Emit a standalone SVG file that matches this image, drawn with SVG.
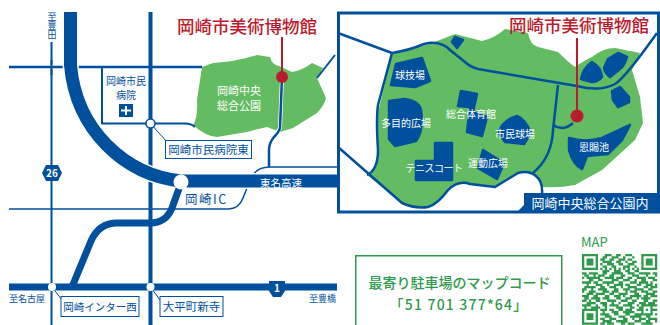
<svg xmlns="http://www.w3.org/2000/svg" width="660" height="325" viewBox="0 0 660 325">
<style>
text{font-family:"Noto Sans CJK JP","Noto Sans",sans-serif}
.r{fill:none;stroke:#00509d;stroke-linecap:butt;stroke-linejoin:round}
.c{fill:none;stroke:#fff;stroke-linejoin:round}
.g{fill:#63bb62}
.b{fill:#00509d}
.s{fill:#00509d;stroke:#00509d;stroke-width:2.500;stroke-linejoin:round}
.lb{fill:#00509d;font-size:11.5px;text-anchor:middle}
.wt{fill:#fff;font-size:10px;text-anchor:middle}
.box{fill:#fff;stroke:#00509d;stroke-width:1}
.ttl{fill:#b81c2e;font-size:17.5px;font-weight:500;text-anchor:middle}
.red{stroke:#b81c2e;stroke-width:2;fill:none}
.gr{fill:#2e9a4c}
</style>
<rect width="660" height="325" fill="#fff"/>
<g id="area-map-park">
<path class="g" d="M202 67L213 63Q235 62 257 55L270 57Q272 65 279 66L292 72Q303 70 312 63L323 68L317 78L326 98Q324 106 317 113L293 128L280 132L267 127Q257 129 247 132L217 137Q205 136 193 125Q198 118 197 100Z"/>
</g>
<g id="connectors">
<path class="r" stroke-width="2" d="M51.500 42V325"/>
<path class="c" stroke-width="5" d="M48 67H55"/>
<path class="r" stroke-width="2.500" d="M9 67H202"/>
<path class="r" stroke-width="2" d="M51.500 60V75"/>
<path class="r" stroke-width="2" d="M102 67V123.500H185Q191 123.500 195 127"/>
<path class="r" stroke-width="4" d="M150.500 12V325"/>
<path class="r" stroke-width="2" d="M335 55L317 78"/>
<path class="c" stroke-width="4" d="M282 77L280 128L272 140L269 150V168"/>
<path class="r" stroke-width="2.500" d="M282 77L280 128Q279 132 274 137Q269 143 269 150V167"/>
<path class="r" stroke-width="1.500" d="M253 175Q258 167 270 167H337"/>
<path class="r" stroke-width="1.500" d="M9 209H228Q239 209 243 198L247 188"/>
<path class="c" stroke-width="16" d="M70.500 12V65C76 130 125 175 181 181H337"/>
<path class="r" stroke-width="13" d="M70.500 12V65C76 130 125 175 181 181H337"/>
<path class="r" stroke-width="7" d="M181 183L172 208Q166 223 150 223H117Q99 223 91 241L72 287"/>
<path class="r" stroke-width="7" d="M9 287H337"/>
<path class="r" stroke-width="1" d="M150 123L167 142M52 287L62 300M150.500 287L160 300"/>
</g>
<g id="inset-frame"><rect x="338.500" y="13" width="320" height="199" fill="#fff" stroke="#00509d" stroke-width="3"/></g>
<g id="inset-park">
<path class="g" d="M392 53Q410 50 432 43L455 34L482 41Q495 38 505 29L528 33Q530 45 538 47L558 52Q568 62 575 67Q585 60 592 57Q603 48 615 48L640 53L632 70L640 97L643 123L635 140L602 170L575 185Q560 188 542 187Q542 178 535 175Q525 171 518 173Q507 178 495 187L468 183Q457 182 448 188Q438 205 428 207Q414 209 402 203L367 175Q376 172 377 163Q380 155 378 147L377 117Z"/>
<path class="s" d="M396 64L422 58L430 81L415 87L391 85Z"/>
<path class="s" d="M455 37L463 40L457 48L452 42Z"/>
<path class="s" d="M592 62Q601 67 602 77Q598 82 592 82L581 79Q583 68 592 62Z"/>
<path class="s" d="M618 53L627 57Q624 67 620 69L610 77Q605 73 604 68L608 59Z"/>
<path class="s" d="M620 87L629 97L629 102L618 107L613 100L612 91Z"/>
<path class="s" d="M461 91L477 94L473 112L487 117L482 136L467 132L470 107L458 106Z"/>
<path class="s" d="M389 101L405 99Q419 101 421 110Q424 130 416 141L395 146L389 139Z"/>
<path class="s" d="M517 116Q525 119 531 133L524 144L505 142L499 133Q501 121 517 116Z"/>
<path class="s" d="M483 150L504 163L497 179L478 168Z"/>
<path class="s" d="M435 143H452V180H416V161H435Z"/>
<path class="s" d="M569 138Q585 143 602 138L630 125L622 140L608 154L587 156L582 169Q573 165 569 150Z"/>
<path class="r" stroke-width="2.500" d="M338 33L392 53Q410 50 424 44Q440 40 450 50L465 62Q470 67 478 69L577 86Q600 92 615 84Q625 78 657 33"/>
<path class="r" stroke-width="2.500" d="M392 53L378 105Q376 120 378 150Q378 170 367 175"/>
<path class="r" stroke-width="2.500" d="M338 147L402 203Q415 209 428 207Q438 204 448 190Q458 180 470 184L495 187L518 173Q530 170 537 177Q543 182 542 195"/>
<path class="r" stroke-width="2.500" d="M558 85L553 130Q552 157 533 173"/>
<path class="r" stroke-width="2.500" d="M553 125Q563 132 573 123"/>
<path class="red" d="M577 38V117"/>
<circle cx="577" cy="116" r="6.500" fill="#b81c2e"/>
<text class="wt" x="410" y="79">球技場</text>
<text class="wt" x="406" y="127">多目的広場</text>
<text class="wt" x="471" y="118">総合体育館</text>
<text class="wt" x="515" y="138">市民球場</text>
<text class="wt" x="488" y="167">運動広場</text>
<text class="wt" x="434" y="172" letter-spacing="-.5">テニスコート</text>
<text class="wt" x="594" y="151">恩賜池</text>
</g>
<g id="inset-label">
<path class="b" d="M524 193H660V212H517L524 205Z"/>
<text x="590" y="208" fill="#fff" font-size="13px" text-anchor="middle">岡崎中央総合公園内</text>
</g>
<g id="title-inset"><text class="ttl" x="579" y="32">岡崎市美術博物館</text></g>
<g id="title-main">
<text class="ttl" x="247" y="33">岡崎市美術博物館</text>
<path class="red" d="M282 37V77"/>
<circle cx="282" cy="77" r="6" fill="#b81c2e"/>
</g>
<g id="park-label"><text class="wt" x="239" y="95" style="font-size:11px">岡崎中央</text><text class="wt" x="239" y="110" style="font-size:11px">総合公園</text></g>
<g id="hospital">
<text class="lb" x="126" y="85" style="font-size:10px">岡崎市民</text>
<text class="lb" x="126" y="99" style="font-size:10px">病院</text>
<rect class="b" x="119" y="104" width="14" height="13"/>
<path d="M126 106V115M121 110.500H131" stroke="#fff" stroke-width="2"/>
</g>
<g id="ic-hosp-east">
<circle cx="150.500" cy="123.500" r="4.500" fill="#fff" stroke="#00509d" stroke-width="1.500"/>
<rect class="box" x="165.500" y="140.500" width="86" height="18"/>
<text class="lb" x="208.500" y="154">岡崎市民病院東</text>
</g>
<g id="ic-okazaki">
<circle cx="181" cy="182" r="7.500" fill="#fff"/>
<text x="185" y="204" fill="#00509d" font-size="12.500px" letter-spacing="1.500">岡崎IC</text>
</g>
<g id="road-tomei"><text class="wt" x="281" y="187" style="font-size:10.500px">東名高速</text></g>
<g id="route-26">
<path class="b" d="M46 165H58L62 173L58 181H46L42 173Z"/>
<text x="52" y="177" fill="#fff" font-size="10px" font-weight="700" text-anchor="middle">26</text>
</g>
<g id="route-1">
<path class="b" d="M269 281H285V291L281 297H273L269 291Z"/>
<text x="277" y="292" fill="#fff" font-size="10px" font-weight="700" text-anchor="middle">1</text>
</g>
<g id="ic-west">
<circle cx="52" cy="287" r="4" fill="#fff"/>
<rect class="box" x="61" y="296.500" width="78" height="20"/>
<text class="lb" x="100" y="311" style="font-size:10.500px">岡崎インター西</text>
</g>
<g id="ic-taihei">
<circle cx="150.500" cy="287" r="4" fill="#fff"/>
<rect class="box" x="160" y="296.500" width="63" height="20"/>
<text class="lb" x="191.500" y="311">大平町新寺</text>
</g>
<g id="directions">
<text x="9" y="302" fill="#00509d" font-size="9px">至名古屋</text>
<text x="309" y="302" fill="#00509d" font-size="9px">至豊橋</text>
<text x="52" y="12" fill="#00509d" font-size="9px" style="writing-mode:vertical-rl">至豊田</text>
</g>
<g id="code-box">
<rect x="355.750" y="255.750" width="206" height="80" fill="#fff" stroke="#2e9a4c" stroke-width="1.500"/>
<text class="gr" x="459.500" y="288" font-size="14px" font-weight="500" text-anchor="middle">最寄り駐車場のマップコード</text>
<text class="gr" x="459" y="310" font-size="14px" font-weight="500" text-anchor="middle" letter-spacing="1.200">「51 701 377*64」</text>
</g>
<g id="qr">
<text class="gr" x="581" y="247" font-size="13px">MAP</text>
<g transform="translate(582 254) scale(2.280)">
<path fill="none" stroke="#2e9a4c" d="M0 .5h7M10 .5h3M15 .5h2M19 .5h3M26 .5h7M0 1.500h1M6 1.500h1M9 1.500h2M13 1.500h3M18 1.500h1M22 1.500h1M26 1.500h1M32 1.500h1M0 2.500h1M2 2.500h3M6 2.500h1M8 2.500h2M12 2.500h2M16 2.500h3M20 2.500h2M26 2.500h1M28 2.500h3M32 2.500h1M0 3.500h1M2 3.500h3M6 3.500h1M9 3.500h4M15 3.500h2M19 3.500h1M22 3.500h2M26 3.500h1M28 3.500h3M32 3.500h1M0 4.500h1M2 4.500h3M6 4.500h1M8 4.500h1M11 4.500h3M16 4.500h2M20 4.500h3M26 4.500h1M28 4.500h3M32 4.500h1M0 5.500h1M6 5.500h1M9 5.500h2M13 5.500h2M18 5.500h3M23 5.500h1M26 5.500h1M32 5.500h1M0 6.500h7M8 6.500h1M10 6.500h1M12 6.500h1M14 6.500h1M16 6.500h1M18 6.500h1M20 6.500h1M22 6.500h1M24 6.500h1M26 6.500h7M9 7.500h3M14 7.500h3M19 7.500h2M23 7.500h2M0 8.500h2M3 8.500h4M9 8.500h2M13 8.500h5M20 8.500h3M25 8.500h5M31 8.500h2M1 9.500h2M5 9.500h1M7 9.500h3M12 9.500h2M17 9.500h2M22 9.500h3M28 9.500h1M32 9.500h1M0 10.500h1M2 10.500h6M10 10.500h4M15 10.500h3M20 10.500h2M24 10.500h4M29 10.500h3M3 11.500h2M7 11.500h2M13 11.500h3M18 11.500h3M23 11.500h1M26 11.500h2M31 11.500h2M0 12.500h4M5 12.500h2M9 12.500h5M16 12.500h2M21 12.500h3M25 12.500h4M30 12.500h1M2 13.500h1M6 13.500h3M11 13.500h1M14 13.500h4M19 13.500h2M24 13.500h2M28 13.500h3M32 13.500h1M1 14.500h5M8 14.500h2M12 14.500h3M17 14.500h1M20 14.500h4M27 14.500h2M30 14.500h3M0 15.500h2M4 15.500h1M7 15.500h4M14 15.500h2M18 15.500h3M23 15.500h4M29 15.500h2M0 16.500h1M3 16.500h3M9 16.500h3M13 16.500h3M19 16.500h1M21 16.500h3M26 16.500h3M31 16.500h2M2 17.500h3M6 17.500h4M12 17.500h2M16 17.500h4M23 17.500h2M28 17.500h4M0 18.500h3M5 18.500h2M10 18.500h2M14 18.500h3M18 18.500h1M21 18.500h5M27 18.500h2M30 18.500h3M1 19.500h2M4 19.500h4M9 19.500h3M15 19.500h2M19 19.500h3M24 19.500h1M26 19.500h4M0 20.500h2M3 20.500h1M6 20.500h2M11 20.500h4M17 20.500h3M22 20.500h2M27 20.500h2M31 20.500h2M2 21.500h4M8 21.500h3M13 21.500h1M16 21.500h1M20 21.500h3M25 21.500h3M29 21.500h3M0 22.500h4M6 22.500h1M9 22.500h2M12 22.500h4M18 22.500h4M24 22.500h1M26 22.500h7M1 23.500h1M4 23.500h4M10 23.500h1M15 23.500h3M21 23.500h2M25 23.500h2M30 23.500h1M0 24.500h7M8 24.500h3M12 24.500h2M16 24.500h2M19 24.500h3M24 24.500h3M28 24.500h1M30 24.500h3M0 25.500h1M6 25.500h1M9 25.500h1M13 25.500h3M18 25.500h5M26 25.500h1M30 25.500h1M0 26.500h1M2 26.500h3M6 26.500h1M8 26.500h4M14 26.500h2M19 26.500h2M23 26.500h8M32 26.500h1M0 27.500h1M2 27.500h3M6 27.500h1M10 27.500h3M16 27.500h3M21 27.500h5M28 27.500h2M0 28.500h1M2 28.500h3M6 28.500h1M8 28.500h2M12 28.500h3M18 28.500h2M22 28.500h1M25 28.500h3M29 28.500h4M0 29.500h1M6 29.500h1M9 29.500h4M15 29.500h5M23 29.500h3M28 29.500h2M32 29.500h1M0 30.500h7M8 30.500h2M11 30.500h3M17 30.500h2M20 30.500h3M26 30.500h5"/>
</g>
</g>
</svg>
